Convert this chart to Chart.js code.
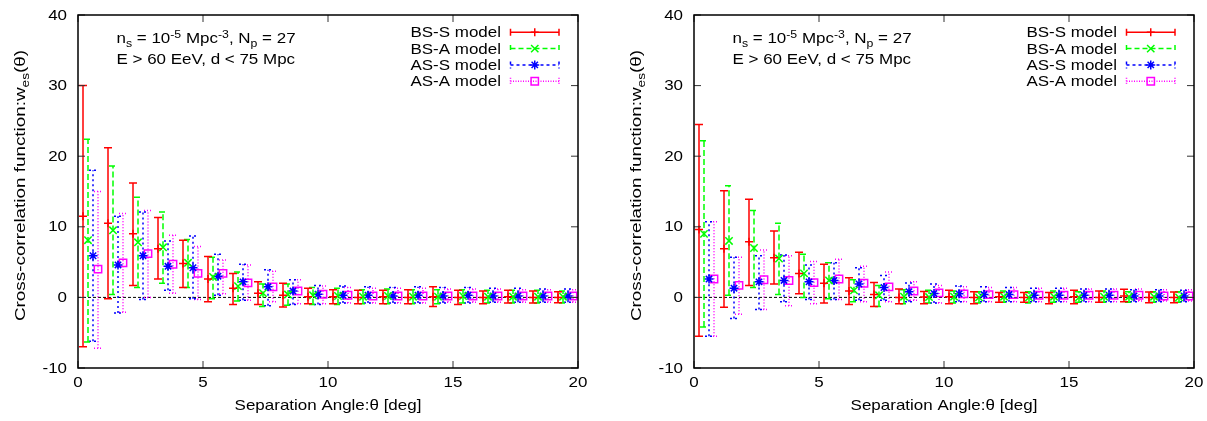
<!DOCTYPE html>
<html>
<head>
<meta charset="utf-8">
<script src="https://cdn.jsdelivr.net/npm/chart.js@4.4.1/dist/chart.umd.min.js"></script>
<style>
  html, body { margin: 0; padding: 0; background: #fff; }
  #wrap { position: relative; width: 1207px; height: 421px; }
  canvas { position: absolute; top: 0; }
  #chartLeft { left: 0; }
  #chartRight { left: 616px; }
</style>
</head>
<body>
<div id="wrap">
  <canvas id="chartLeft" width="616" height="421"></canvas>
  <canvas id="chartRight" width="591" height="421"></canvas>
</div>
<script>
// Data start
const seriesNames = ['BS-S model', 'BS-A model', 'AS-S model', 'AS-A model'];
const xTicks = [0, 5, 10, 15, 20];
const yTicks = [-10, 0, 10, 20, 30, 40];

const angleBSS = [0.2, 1.2, 2.2, 3.2, 4.2, 5.2, 6.2, 7.2, 8.2, 9.2, 10.2, 11.2, 12.2, 13.2, 14.2, 15.2, 16.2, 17.2, 18.2, 19.2];
const angleBSA = [0.4, 1.4, 2.4, 3.4, 4.4, 5.4, 6.4, 7.4, 8.4, 9.4, 10.4, 11.4, 12.4, 13.4, 14.4, 15.4, 16.4, 17.4, 18.4, 19.4];
const angleASS = [0.6, 1.6, 2.6, 3.6, 4.6, 5.6, 6.6, 7.6, 8.6, 9.6, 10.6, 11.6, 12.6, 13.6, 14.6, 15.6, 16.6, 17.6, 18.6, 19.6];
const angleASA = [0.8, 1.8, 2.8, 3.8, 4.8, 5.8, 6.8, 7.8, 8.8, 9.8, 10.8, 11.8, 12.8, 13.8, 14.8, 15.8, 16.8, 17.8, 18.8, 19.8];

// left panel
const leftBSS = [11.5, 10.5, 9.0, 6.9, 4.8, 2.6, 1.3, 0.6, 0.3, 0.1, 0.1, 0.0, 0.1, 0.0, 0.1, 0.0, 0.0, 0.1, 0.0, 0.0];
const leftBSSLow = [-7.0, -0.2, 1.7, 2.6, 1.4, -0.6, -1.0, -1.0, -1.35, -0.9, -0.9, -0.9, -0.9, -0.9, -1.3, -1.0, -0.9, -0.8, -0.8, -0.75];
const leftBSSHigh = [30.0, 21.2, 16.2, 11.3, 8.1, 5.8, 3.4, 2.2, 2.0, 1.3, 1.1, 1.0, 1.0, 1.1, 1.5, 1.0, 0.9, 1.0, 0.9, 0.8];

const leftBSA = [8.1, 9.5, 7.8, 7.1, 4.9, 2.9, 1.6, 0.6, 0.4, 0.3, 0.2, 0.1, 0.2, 0.1, 0.1, 0.2, 0.1, 0.1, 0.1, 0.1];
const leftBSALow = [-6.3, 0.4, 1.4, 2.0, 1.4, -0.2, -0.5, -1.3, -1.1, -1.0, -1.0, -0.9, -0.9, -0.9, -0.9, -0.8, -0.8, -0.8, -0.8, -0.8];
const leftBSAHigh = [22.4, 18.6, 14.2, 12.1, 8.2, 5.7, 3.6, 1.9, 1.9, 1.4, 1.3, 1.1, 1.2, 1.1, 1.1, 1.1, 1.0, 1.0, 1.0, 0.9];

const leftASS = [5.9, 4.6, 5.9, 4.4, 4.2, 3.0, 2.2, 1.5, 0.9, 0.45, 0.3, 0.3, 0.2, 0.3, 0.2, 0.3, 0.2, 0.2, 0.2, 0.2];
const leftASSLow = [-6.2, -2.2, -0.3, 1.0, -0.2, 0.3, -0.4, -1.2, -1.0, -1.0, -0.8, -0.8, -0.8, -0.8, -0.8, -0.8, -0.7, -0.7, -0.7, -0.7];
const leftASSHigh = [18.0, 11.5, 12.1, 8.0, 8.7, 6.1, 4.7, 3.9, 2.5, 1.7, 1.6, 1.5, 1.4, 1.5, 1.4, 1.4, 1.3, 1.3, 1.2, 1.2];

const leftASA = [4.0, 4.9, 6.2, 4.7, 3.4, 3.4, 2.05, 1.5, 0.9, 0.45, 0.3, 0.2, 0.2, 0.2, 0.2, 0.2, 0.2, 0.2, 0.2, 0.2];
const leftASALow = [-7.2, -2.1, 0.0, 0.6, -0.3, 0.5, -0.4, -0.6, -0.9, -0.9, -0.8, -0.8, -0.8, -0.8, -0.7, -0.7, -0.7, -0.7, -0.7, -0.7];
const leftASAHigh = [15.0, 11.9, 12.3, 8.8, 7.2, 5.3, 4.6, 3.7, 2.5, 1.6, 1.4, 1.3, 1.3, 1.3, 1.2, 1.2, 1.2, 1.1, 1.1, 1.1];

// right panel
const rightBSS = [9.6, 6.9, 7.9, 5.6, 3.4, 2.0, 0.9, 0.4, 0.0, 0.05, 0.1, 0.0, 0.1, 0.0, 0.0, 0.1, 0.0, 0.2, 0.0, 0.0];
const rightBSSLow = [-5.5, -1.4, 1.7, 1.9, 0.5, -0.8, -1.0, -1.3, -0.9, -0.9, -0.9, -0.9, -0.7, -0.7, -0.9, -0.9, -0.7, -0.6, -0.75, -0.75];
const rightBSSHigh = [24.5, 15.1, 13.9, 9.4, 6.4, 4.7, 2.8, 2.1, 1.2, 0.85, 1.0, 0.8, 0.7, 0.7, 0.7, 1.0, 0.9, 1.15, 0.75, 0.75];

const rightBSA = [9.0, 8.0, 7.0, 5.5, 3.4, 2.4, 1.0, 0.3, 0.1, 0.05, 0.1, 0.0, 0.1, 0.0, 0.1, 0.0, 0.1, 0.1, 0.1, 0.0];
const rightBSALow = [-4.2, 0.3, 1.4, 0.4, 0.0, -0.2, -0.6, -1.3, -0.9, -0.8, -0.8, -0.8, -0.7, -0.8, -0.7, -0.7, -0.7, -0.7, -0.7, -0.7];
const rightBSAHigh = [22.2, 15.8, 12.3, 10.5, 6.1, 4.9, 2.5, 1.7, 1.1, 1.0, 0.9, 0.8, 0.9, 0.8, 0.9, 0.8, 0.9, 0.8, 0.8, 0.8];

const rightASS = [2.6, 1.3, 2.2, 2.4, 2.2, 2.4, 1.9, 1.4, 0.8, 0.55, 0.5, 0.4, 0.4, 0.3, 0.3, 0.3, 0.3, 0.2, 0.2, 0.2];
const rightASSLow = [-5.5, -3.0, -1.7, -0.6, -0.3, -0.3, -0.4, -0.4, -0.6, -0.8, -0.6, -0.6, -0.6, -0.6, -0.6, -0.6, -0.6, -0.6, -0.6, -0.6];
const rightASSHigh = [10.7, 5.7, 5.9, 6.0, 4.6, 4.9, 4.2, 3.1, 2.05, 1.9, 1.6, 1.5, 1.4, 1.3, 1.3, 1.2, 1.2, 1.1, 1.1, 1.0];

const rightASA = [2.6, 1.7, 2.5, 2.4, 2.1, 2.6, 2.0, 1.5, 0.9, 0.65, 0.5, 0.4, 0.4, 0.3, 0.3, 0.3, 0.3, 0.3, 0.2, 0.2];
const rightASALow = [-5.5, -2.4, -1.7, -1.2, -0.9, -0.3, -0.6, -0.6, -0.4, -0.8, -0.6, -0.6, -0.6, -0.6, -0.6, -0.6, -0.6, -0.5, -0.5, -0.5];
const rightASAHigh = [10.7, 5.7, 6.7, 5.9, 5.1, 5.4, 4.4, 3.6, 2.2, 1.7, 1.5, 1.4, 1.4, 1.3, 1.3, 1.2, 1.2, 1.2, 1.1, 1.1];
// Data end

const FONT = '"Liberation Sans", Arial, Helvetica, sans-serif';
const FS = 14.5;   // font size
const SUB = 10.5;  // sub/sup font size
const SX = 1.17;   // text in the picture is a bit wider than tall
const SX_YTITLE = 1.3;

const seriesStyle = [
  { color: '#ff0000', dash: [], legendDash: [], point: 'cross', radius: 4 },
  { color: '#00ff00', dash: [6, 3], legendDash: [5, 3], point: 'crossRot', radius: 5.2 },
  { color: '#0000ff', dash: [2, 3], legendDash: [3, 3], point: 'star', radius: 4.5 },
  { color: '#ff00ff', dash: [1, 2], legendDash: [1, 1.5], point: 'rect', radius: 5.2 }
];

function makeDataset(i, angles, values, low, high) {
  const st = seriesStyle[i];
  return {
    label: seriesNames[i],
    data: angles.map((a, k) => ({ x: a, y: values[k] })),
    low: low,
    high: high,
    barDash: st.dash,
    legendDash: st.legendDash,
    showLine: false,
    borderColor: st.color,
    backgroundColor: 'rgba(0,0,0,0)',
    pointStyle: st.point,
    pointRadius: st.radius,
    pointBorderWidth: 1.5,
    pointHoverRadius: st.radius
  };
}

// text helpers (stretched horizontally)
function drawText(ctx, text, x, y, align, baseline) {
  ctx.save();
  ctx.translate(x, y);
  ctx.scale(SX, 1);
  ctx.font = FS + 'px ' + FONT;
  ctx.fillStyle = '#000';
  ctx.textAlign = align;
  ctx.textBaseline = baseline;
  ctx.fillText(text, 0, 0);
  ctx.restore();
}

function richWidth(ctx, parts) {
  let w = 0;
  parts.forEach(([t, k]) => {
    ctx.font = (k ? SUB : FS) + 'px ' + FONT;
    w += ctx.measureText(t).width;
  });
  return w;
}

// parts: [text, kind] kind 0 normal, 1 sub, 2 sup ; drawn in current transform
function drawRichLocal(ctx, parts, x, y) {
  ctx.fillStyle = '#000';
  ctx.textAlign = 'left';
  ctx.textBaseline = 'alphabetic';
  parts.forEach(([t, k]) => {
    ctx.font = (k ? SUB : FS) + 'px ' + FONT;
    const dy = k === 1 ? 4 : (k === 2 ? -5 : 0);
    ctx.fillText(t, x, y + dy);
    x += ctx.measureText(t).width;
  });
}

function drawRich(ctx, parts, x, y) {
  ctx.save();
  ctx.translate(x, y);
  ctx.scale(SX, 1);
  drawRichLocal(ctx, parts, 0, 0);
  ctx.restore();
}

function marker(ctx, style, radius, x, y) {
  ctx.setLineDash([]);
  ctx.lineWidth = 1.5;
  ctx.fillStyle = 'rgba(0,0,0,0)';
  Chart.helpers.drawPoint(ctx, { pointStyle: style, radius: radius, rotation: 0, borderWidth: 1.5 }, x, y);
}

const errorBarPlugin = {
  id: 'errorBars',
  beforeDatasetDraw(chart, args) {
    const ds = chart.data.datasets[args.index];
    const { ctx, scales: { x, y } } = chart;
    ctx.save();
    ctx.strokeStyle = ds.borderColor;
    ctx.lineWidth = 1.5;
    ctx.setLineDash(ds.barDash);
    ds.data.forEach((p, i) => {
      const px = x.getPixelForValue(p.x);
      const top = y.getPixelForValue(ds.high[i]);
      const bot = y.getPixelForValue(ds.low[i]);
      ctx.beginPath();
      ctx.moveTo(px, bot); ctx.lineTo(px, top);
      ctx.moveTo(px - 4, top); ctx.lineTo(px + 4, top);
      ctx.moveTo(px - 4, bot); ctx.lineTo(px + 4, bot);
      ctx.stroke();
    });
    ctx.restore();
  }
};

const framePlugin = {
  id: 'frame',
  beforeDatasetsDraw(chart) {
    const { ctx, chartArea: a, scales: { y } } = chart;
    const y0 = y.getPixelForValue(0);
    ctx.save();
    ctx.strokeStyle = '#000';
    ctx.lineWidth = 1;
    ctx.setLineDash([3, 2]);
    ctx.beginPath();
    ctx.moveTo(a.left, y0); ctx.lineTo(a.right, y0);
    ctx.stroke();
    ctx.restore();
  },
  afterDatasetsDraw(chart) {
    const { ctx, chartArea: a, scales: { x, y } } = chart;
    ctx.save();

    // inner ticks
    ctx.strokeStyle = '#333';
    ctx.lineWidth = 1;
    ctx.beginPath();
    xTicks.forEach(v => {
      const px = x.getPixelForValue(v);
      ctx.moveTo(px, a.bottom); ctx.lineTo(px, a.bottom - 7);
      ctx.moveTo(px, a.top); ctx.lineTo(px, a.top + 7);
    });
    yTicks.forEach(v => {
      const py = y.getPixelForValue(v);
      ctx.moveTo(a.left, py); ctx.lineTo(a.left + 7, py);
      ctx.moveTo(a.right, py); ctx.lineTo(a.right - 7, py);
    });
    ctx.stroke();

    // border
    ctx.strokeStyle = '#000';
    ctx.lineWidth = 1.5;
    ctx.strokeRect(a.left, a.top, a.right - a.left, a.bottom - a.top);

    // tick labels
    xTicks.forEach(v => drawText(ctx, String(v), x.getPixelForValue(v), a.bottom + 14.5, 'center', 'middle'));
    yTicks.forEach(v => drawText(ctx, String(v), a.left - 11, y.getPixelForValue(v) + 0.5, 'right', 'middle'));

    // x title
    drawText(ctx, 'Separation Angle:\u03b8 [deg]', (a.left + a.right) / 2, 406, 'center', 'middle');

    // annotation
    drawRich(ctx, [['n', 0], ['s', 1], [' = 10', 0], ['-5', 2], [' Mpc', 0], ['-3', 2], [', N', 0], ['p', 1], [' = 27', 0]], a.left + 38.5, a.top + 27.5);
    drawRich(ctx, [['E > 60 EeV, d < 75 Mpc', 0]], a.left + 38.5, a.top + 48.5);

    // legend
    chart.data.datasets.forEach((ds, i) => {
      const ly = a.top + 17.3 + i * 16.3;
      drawText(ctx, ds.label, a.right - 77, ly + 1, 'right', 'middle');
      const x1 = a.right - 67.5, x2 = a.right - 19;
      ctx.strokeStyle = ds.borderColor;
      ctx.lineWidth = 1.5;
      ctx.setLineDash(ds.legendDash);
      ctx.beginPath();
      ctx.moveTo(x1, ly); ctx.lineTo(x2, ly);
      ctx.moveTo(x1, ly - 3.5); ctx.lineTo(x1, ly + 3.5);
      ctx.moveTo(x2, ly - 3.5); ctx.lineTo(x2, ly + 3.5);
      ctx.stroke();
      marker(ctx, ds.pointStyle, ds.pointRadius, (x1 + x2) / 2, ly);
    });

    // y title
    const parts = [['Cross-correlation function:w', 0], ['es', 1], ['(\u03b8)', 0]];
    const w = richWidth(ctx, parts);
    ctx.translate(a.left - 53, (a.top + a.bottom) / 2 - 6);
    ctx.rotate(-Math.PI / 2);
    ctx.scale(SX_YTITLE, 1);
    drawRichLocal(ctx, parts, -w / 2, 0);
    ctx.restore();
  }
};

function makePanel(canvasId, rightPad, sets) {
  const ctx = document.getElementById(canvasId).getContext('2d');
  return new Chart(ctx, {
    type: 'scatter',
    data: {
      datasets: [
        makeDataset(0, angleBSS, sets[0], sets[1], sets[2]),
        makeDataset(1, angleBSA, sets[3], sets[4], sets[5]),
        makeDataset(2, angleASS, sets[6], sets[7], sets[8]),
        makeDataset(3, angleASA, sets[9], sets[10], sets[11])
      ]
    },
    options: {
      responsive: false,
      animation: false,
      events: [],
      layout: { padding: { top: 15, right: rightPad, left: 0, bottom: 0 } },
      plugins: {
        legend: { display: false },
        tooltip: { enabled: false }
      },
      scales: {
        x: {
          type: 'linear',
          min: 0,
          max: 20,
          afterBuildTicks: s => { s.ticks = xTicks.map(v => ({ value: v })); },
          afterFit: s => { s.height = 53; },
          grid: { display: false, drawTicks: false },
          border: { display: false },
          ticks: { display: false }
        },
        y: {
          type: 'linear',
          min: -10,
          max: 40,
          afterBuildTicks: s => { s.ticks = yTicks.map(v => ({ value: v })); },
          afterFit: s => { s.width = 78; },
          grid: { display: false, drawTicks: false },
          border: { display: false },
          ticks: { display: false }
        }
      }
    },
    plugins: [framePlugin, errorBarPlugin]
  });
}

makePanel('chartLeft', 38, [
  leftBSS, leftBSSLow, leftBSSHigh,
  leftBSA, leftBSALow, leftBSAHigh,
  leftASS, leftASSLow, leftASSHigh,
  leftASA, leftASALow, leftASAHigh
]);

makePanel('chartRight', 13, [
  rightBSS, rightBSSLow, rightBSSHigh,
  rightBSA, rightBSALow, rightBSAHigh,
  rightASS, rightASSLow, rightASSHigh,
  rightASA, rightASALow, rightASAHigh
]);
</script>
</body>
</html>
